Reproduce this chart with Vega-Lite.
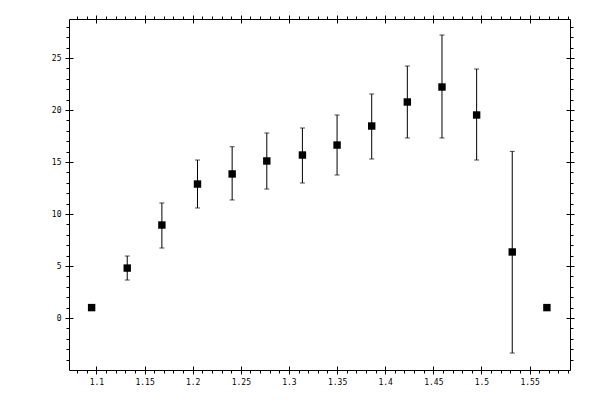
{
  "$schema": "https://vega.github.io/schema/vega-lite/v6.json",
  "width": 501,
  "height": 351,
  "autosize": {"type": "none"},
  "padding": {"left": 69, "top": 19, "right": 30, "bottom": 30},
  "data": {
    "values": [
      {"x": 1.095, "y": 1.0, "lo": 1.0, "hi": 1.0},
      {"x": 1.132, "y": 4.8, "lo": 3.65, "hi": 5.96},
      {"x": 1.168, "y": 8.94, "lo": 6.73, "hi": 11.06},
      {"x": 1.205, "y": 12.88, "lo": 10.58, "hi": 15.19},
      {"x": 1.241, "y": 13.85, "lo": 11.35, "hi": 16.47},
      {"x": 1.277, "y": 15.1, "lo": 12.4, "hi": 17.79},
      {"x": 1.314, "y": 15.67, "lo": 12.98, "hi": 18.27},
      {"x": 1.35, "y": 16.63, "lo": 13.75, "hi": 19.52},
      {"x": 1.386, "y": 18.46, "lo": 15.29, "hi": 21.54},
      {"x": 1.423, "y": 20.77, "lo": 17.31, "hi": 24.23},
      {"x": 1.459, "y": 22.21, "lo": 17.31, "hi": 27.21},
      {"x": 1.495, "y": 19.52, "lo": 15.19, "hi": 23.94},
      {"x": 1.532, "y": 6.35, "lo": -3.37, "hi": 16.02},
      {"x": 1.568, "y": 1.0, "lo": 1.0, "hi": 1.0}
    ]
  },
  "layer": [
    {
      "mark": {"type": "rule", "color": "black", "strokeWidth": 1},
      "encoding": {
        "x": {
          "field": "x", "type": "quantitative",
          "scale": {"domain": [1.0715, 1.592], "nice": false, "zero": false},
          "axis": {"orient": "bottom", "values": [1.1, 1.15, 1.2, 1.25, 1.3, 1.35, 1.4, 1.45, 1.5, 1.55], "format": "~g", "labels": true, "tickSize": 4, "labelPadding": 4}
        },
        "y": {
          "field": "lo", "type": "quantitative",
          "scale": {"domain": [-5, 28.75], "nice": false, "zero": false},
          "axis": {"orient": "left", "values": [0, 5, 10, 15, 20, 25], "format": "~g", "labels": true, "tickSize": 4, "labelPadding": 4}
        },
        "y2": {"field": "hi"}
      }
    },
    {
      "mark": {"type": "tick", "orient": "horizontal", "color": "black", "size": 5, "thickness": 1},
      "encoding": {
        "x": {
          "field": "x", "type": "quantitative",
          "axis": {"orient": "bottom", "values": [1.08, 1.09, 1.1, 1.11, 1.12, 1.13, 1.14, 1.15, 1.16, 1.17, 1.18, 1.19, 1.2, 1.21, 1.22, 1.23, 1.24, 1.25, 1.26, 1.27, 1.28, 1.29, 1.3, 1.31, 1.32, 1.33, 1.34, 1.35, 1.36, 1.37, 1.38, 1.39, 1.4, 1.41, 1.42, 1.43, 1.44, 1.45, 1.46, 1.47, 1.48, 1.49, 1.5, 1.51, 1.52, 1.53, 1.54, 1.55, 1.56, 1.57, 1.58, 1.59], "tickSize": 3}
        },
        "y": {
          "field": "lo", "type": "quantitative",
          "axis": {"orient": "left", "values": [-4, -3, -2, -1, 0, 1, 2, 3, 4, 5, 6, 7, 8, 9, 10, 11, 12, 13, 14, 15, 16, 17, 18, 19, 20, 21, 22, 23, 24, 25, 26, 27, 28], "tickSize": 3}
        }
      }
    },
    {
      "mark": {"type": "tick", "orient": "horizontal", "color": "black", "size": 5, "thickness": 1},
      "encoding": {
        "x": {
          "field": "x", "type": "quantitative",
          "axis": {"orient": "bottom", "values": [1.1, 1.15, 1.2, 1.25, 1.3, 1.35, 1.4, 1.45, 1.5, 1.55], "tickSize": -4}
        },
        "y": {
          "field": "hi", "type": "quantitative",
          "axis": {"orient": "left", "values": [0, 5, 10, 15, 20, 25], "tickSize": -4}
        }
      }
    },
    {
      "mark": {"type": "point", "opacity": 0},
      "encoding": {
        "x": {
          "field": "x", "type": "quantitative",
          "axis": {"orient": "top", "values": [1.08, 1.09, 1.1, 1.11, 1.12, 1.13, 1.14, 1.15, 1.16, 1.17, 1.18, 1.19, 1.2, 1.21, 1.22, 1.23, 1.24, 1.25, 1.26, 1.27, 1.28, 1.29, 1.3, 1.31, 1.32, 1.33, 1.34, 1.35, 1.36, 1.37, 1.38, 1.39, 1.4, 1.41, 1.42, 1.43, 1.44, 1.45, 1.46, 1.47, 1.48, 1.49, 1.5, 1.51, 1.52, 1.53, 1.54, 1.55, 1.56, 1.57, 1.58, 1.59], "tickSize": 3}
        },
        "y": {
          "field": "y", "type": "quantitative",
          "axis": {"orient": "right", "values": [-4, -3, -2, -1, 0, 1, 2, 3, 4, 5, 6, 7, 8, 9, 10, 11, 12, 13, 14, 15, 16, 17, 18, 19, 20, 21, 22, 23, 24, 25, 26, 27, 28], "tickSize": 3}
        }
      }
    },
    {
      "mark": {"type": "point", "opacity": 0},
      "encoding": {
        "x": {
          "field": "x", "type": "quantitative",
          "axis": {"orient": "top", "values": [1.1, 1.15, 1.2, 1.25, 1.3, 1.35, 1.4, 1.45, 1.5, 1.55], "tickSize": 4}
        },
        "y": {
          "field": "y", "type": "quantitative",
          "axis": {"orient": "right", "values": [0, 5, 10, 15, 20, 25], "tickSize": 4}
        }
      }
    },
    {
      "mark": {"type": "square", "filled": true, "color": "black", "opacity": 1, "size": 55},
      "encoding": {
        "x": {
          "field": "x", "type": "quantitative",
          "axis": {"orient": "top", "values": [1.1, 1.15, 1.2, 1.25, 1.3, 1.35, 1.4, 1.45, 1.5, 1.55], "tickSize": -4}
        },
        "y": {
          "field": "y", "type": "quantitative",
          "axis": {"orient": "right", "values": [0, 5, 10, 15, 20, 25], "tickSize": -4}
        }
      }
    }
  ],
  "resolve": {"axis": {"x": "independent", "y": "independent"}},
  "config": {
    "view": {"stroke": "black", "strokeWidth": 1},
    "axis": {
      "title": null,
      "grid": false,
      "domain": false,
      "labels": false,
      "tickColor": "black",
      "tickWidth": 1,
      "labelColor": "black",
      "labelFont": "DejaVu Sans Mono",
      "labelFontSize": 8
    }
  }
}
